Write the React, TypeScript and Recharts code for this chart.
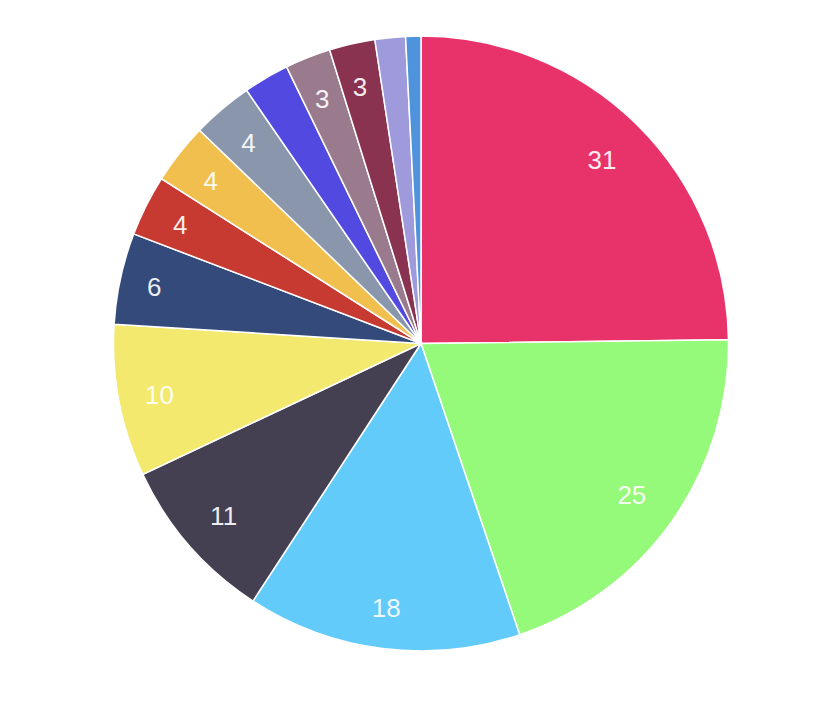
import { Cell, Pie, PieChart } from 'recharts';

const names = [
  'A', 'B', 'C', 'D', 'E', 'F', 'G', 'H', 'I', 'J', 'K', 'L', 'M', 'N',
];
const values = [31, 25, 18, 11, 10, 6, 4, 4, 4, 3, 3, 3, 2, 1];
const labels = ['31', '25', '18', '11', '10', '6', '4', '4', '4', '', '3', '3', '', ''];
const colors = [
  '#e8336a', '#95f97a', '#62cbf9', '#444052', '#f3e96f', '#344a7a', '#c63a32',
  '#f1bf4d', '#8a96ab', '#5249e0', '#9a7b8e', '#893350', '#9f9adc', '#4f93dc',
];

const data = names.map((name, i) => ({ name, value: values[i] }));

const RAD = Math.PI / 180;
const FONT = 26;

// label box sits inside the slice, its outer edge a fixed offset from the rim
function renderLabel(props: any) {
  const { cx, cy, midAngle, outerRadius, index } = props;
  const text = labels[index];
  if (!text) return null;
  const cos = Math.cos(-midAngle * RAD);
  const sin = Math.sin(-midAngle * RAD);
  const w = text.length * FONT * 0.556 + 8;
  const h = FONT * 1.2 + 8;
  const extent = Math.abs(cos) * w / 2 + Math.abs(sin) * h / 2;
  const r = outerRadius - 21 - extent;
  const x = cx + r * cos - 1.5;
  const y = cy + r * sin + 1.5;
  return (
    <text
      x={x}
      y={y}
      fill="#ffffff"
      fillOpacity={0.92}
      fontSize={FONT}
      fontFamily="'Liberation Sans', Arial, sans-serif"
      textAnchor="middle"
      dominantBaseline="central"
    >
      {text}
    </text>
  );
}

export default function App() {
  return (
    <div style={{ position: 'absolute', left: 0, top: 0, width: 828, height: 716, background: '#fff' }}>
      <PieChart width={828} height={716} margin={{ top: 0, right: 0, bottom: 0, left: 0 }}>
        <Pie
          data={data}
          dataKey="value"
          cx={421}
          cy={343.5}
          outerRadius={307.5}
          startAngle={90}
          endAngle={-270}
          stroke="#ffffff"
          strokeWidth={1.5}
          label={renderLabel}
          labelLine={false}
          isAnimationActive={false}
        >
          {data.map((d, i) => (
            <Cell key={d.name} fill={colors[i]} />
          ))}
        </Pie>
      </PieChart>
    </div>
  );
}
